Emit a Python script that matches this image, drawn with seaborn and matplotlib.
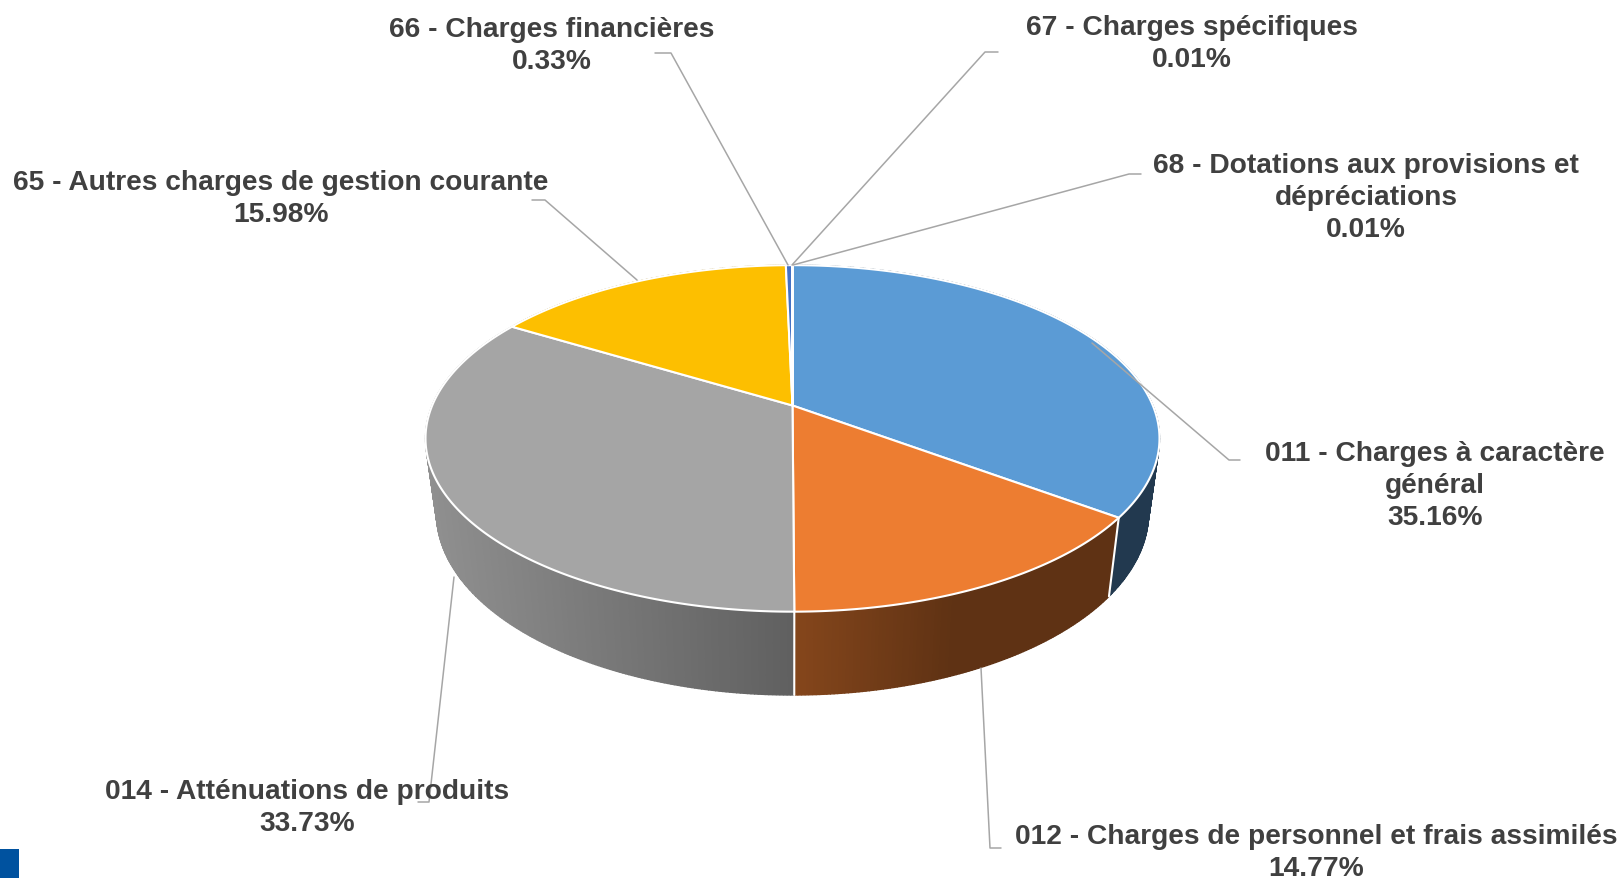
import numpy as np
import matplotlib
matplotlib.use('Agg')
import matplotlib.pyplot as plt
import seaborn as sns

# Data
categories = ['011 - Charges à caractère\ngénéral',
              '012 - Charges de personnel et frais assimilés',
              '014 - Atténuations de produits',
              '65 - Autres charges de gestion courante',
              '66 - Charges financières',
              '67 - Charges spécifiques',
              '68 - Dotations aux provisions et\ndépréciations']
shares = [35.16, 14.77, 33.73, 15.98, 0.33, 0.01, 0.01]
colors = ['#5B9BD5', '#ED7D31', '#A5A5A5', '#FDBF00', '#4472C4', '#70AD47', '#264478']

# wall shade factors: left side of the visible wall, right side of it
wall_shades = [(0.37, 0.37), (0.56, 0.40), (0.87, 0.58), (0.6, 0.6), (0.6, 0.6), (0.6, 0.6), (0.6, 0.6)]

# label centres and leader elbows, in pixels
label_pos = [(1435, 486), (1316, 853), (307, 808), (281, 199), (552, 46), (1192, 44), (1366, 198)]
leaders = [[(1240, 461), (1229, 461), (1092, 344)],
           [(1001, 849), (990, 849), (981, 669)],
           [(418, 803), (429, 803), (454, 578)],
           [(532, 201), (545, 201), (637, 281)],
           [(655, 54), (671, 54), (788, 266)],
           [(998, 53), (985, 53), (792, 266)],
           [(1141, 175), (1129, 175), (793, 266)]]

sns.set_theme(style="white")
plt.rcParams['font.family'] = ['Liberation Sans', 'DejaVu Sans']

# Pie geometry, seen in perspective
cx, cy = 792.5, 406.5
rx, ry, persp = 360.3, 167.0, 0.19
wall_drop, wall_sx, wall_sy = 73.0, 0.97, 1.05


def top_ring(theta):
    w = 1 + persp * np.cos(theta)
    return rx * np.sin(theta) / w, -ry * np.cos(theta) / w


def bottom_ring(theta):
    x, y = top_ring(theta)
    return cx + wall_sx * x, cy + wall_drop + wall_sy * y


fig = plt.figure(figsize=(16.18, 8.79), dpi=100, facecolor='white')
ax = fig.add_axes([0, 0, 1, 1])
ax.set_xlim(0, 1618)
ax.set_ylim(879, 0)
ax.axis('off')

edges = np.cumsum([0] + shares) / np.sum(shares) * 2 * np.pi

# Side wall first, shaded along x
for i in range(len(shares)):
    n = max(int((edges[i + 1] - edges[i]) * 120), 2)
    th = np.linspace(edges[i], edges[i + 1], n + 1)
    tx, ty = top_ring(th)
    tx, ty = cx + tx, cy + ty
    bx, by = bottom_ring(th)
    base = np.array(matplotlib.colors.to_rgb(colors[i]))
    vis = ty > cy + 20
    x0 = tx[vis].min() if vis.any() else tx.min()
    x1 = tx[vis].max() if vis.any() else tx.max()
    for j in range(n):
        xm = 0.5 * (tx[j] + tx[j + 1])
        if i == 1:
            # orange wall reaches its dark tone early on
            f = np.clip((xm - x0) / 160, 0, 1)
        else:
            f = np.clip((xm - x0) / max(x1 - x0, 1), 0, 1)
        shade = wall_shades[i][0] + (wall_shades[i][1] - wall_shades[i][0]) * f
        c = base * shade
        ax.fill([tx[j], tx[j + 1], bx[j + 1], bx[j]], [ty[j], ty[j + 1], by[j + 1], by[j]],
                color=c, lw=1.0, zorder=1)

# White seams between the visible wall pieces
for e in [edges[1], edges[2]]:
    tx, ty = top_ring(e)
    bx, by = bottom_ring(e)
    ax.plot([cx + tx, bx], [cy + ty, by], color='white', lw=1.5, zorder=2)

# Top face
for i in range(len(shares)):
    th = np.linspace(edges[i], edges[i + 1], max(int((edges[i + 1] - edges[i]) * 120), 2) + 1)
    x, y = top_ring(th)
    ax.fill(np.r_[cx, cx + x], np.r_[cy, cy + y], facecolor=colors[i],
            edgecolor='white', lw=1.5, joinstyle='round', zorder=3)

# Leader lines
for pts in leaders:
    xs, ys = zip(*pts)
    ax.plot(xs, ys, color='#A6A6A6', lw=1.1, zorder=4)

# Labels
for cat, share, (lx, ly) in zip(categories, shares, label_pos):
    ax.text(lx, ly, f'{cat}\n{share:.2f}%', ha='center', va='center', ma='center',
            fontsize=20.25, fontweight='bold', color='#404040', linespacing=1.3, zorder=5)

# Blue square in the corner
ax.bar([9], [30], width=20, bottom=850, color='#00529F', lw=0, zorder=5)

fig.savefig('out.png', dpi=100)
